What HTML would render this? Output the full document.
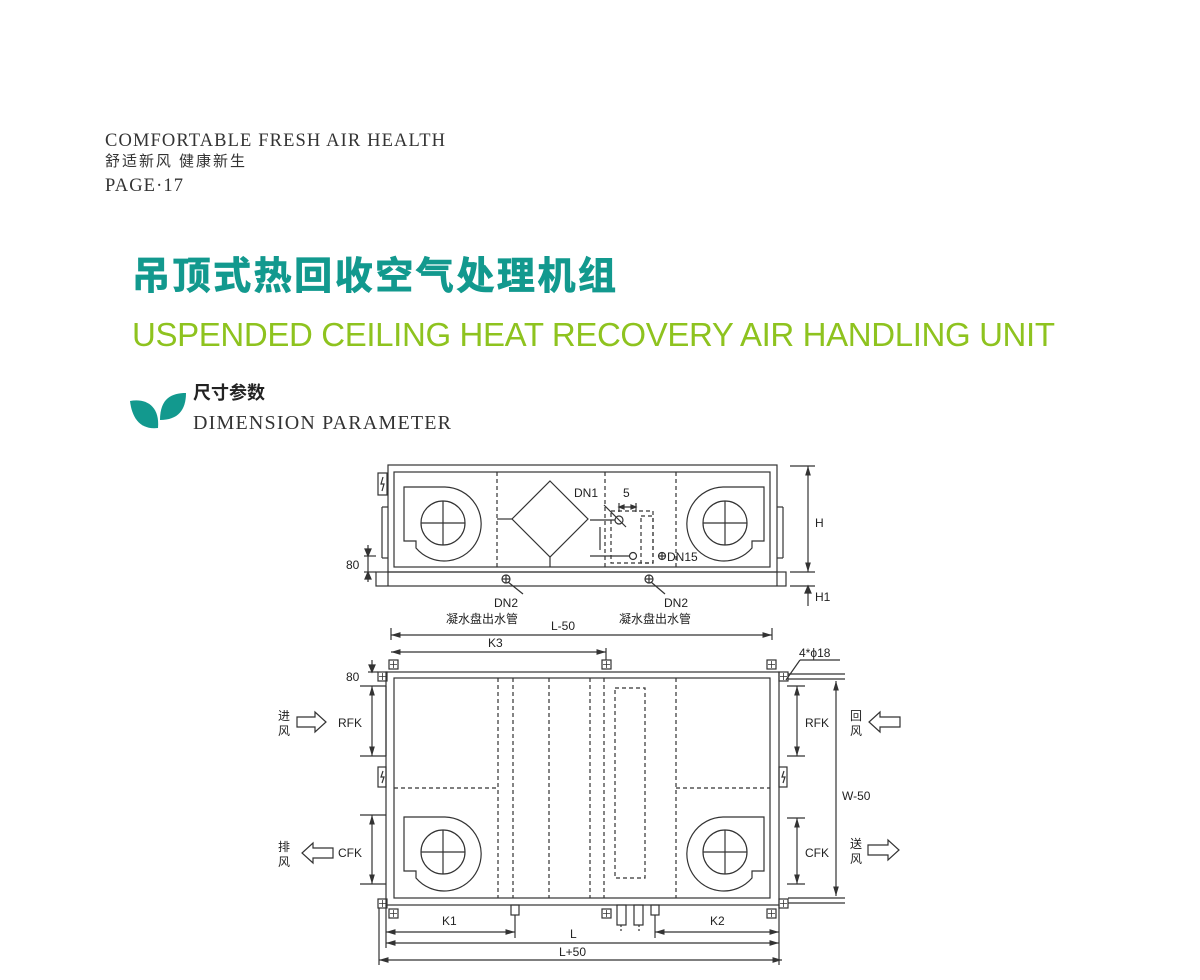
<!DOCTYPE html>
<html><head><meta charset="utf-8"><style>
body{margin:0;background:#fff}
svg{display:block}
</style></head><body>
<svg width="1200" height="980" viewBox="0 0 1200 980" xmlns="http://www.w3.org/2000/svg">
<defs>
<marker id="a" viewBox="0 0 10 10" refX="10" refY="5" markerWidth="8" markerHeight="8" orient="auto-start-reverse"><path d="M0,2 L10,5 L0,8 Z" fill="#333"/></marker>
</defs>
<g font-family="Liberation Serif, serif" fill="#333">
<text x="105" y="146" font-size="18.5" textLength="340">COMFORTABLE FRESH AIR HEALTH</text>
<text x="105" y="166" font-size="15" font-family="Liberation Sans, Noto Sans CJK SC, sans-serif" textLength="140">舒适新风  健康新生</text>
<text x="105" y="191" font-size="18.5" textLength="78">PAGE·17</text>
</g>
<text x="132" y="289" font-size="38" font-weight="bold" fill="#12998e" font-family="Liberation Sans, Noto Sans CJK SC, sans-serif" textLength="484" stroke="#12998e" stroke-width="0.8">吊顶式热回收空气处理机组</text>
<text x="132" y="346" font-size="33" fill="#8ec31f" font-family="Liberation Sans, sans-serif" textLength="923">USPENDED CEILING HEAT RECOVERY AIR HANDLING UNIT</text>
<path d="M130,401 C145,398 160,405 158,428 C140,430 132,418 130,401 Z" fill="#12998e"/>
<path d="M186,393 C172,393 160,398 160,420 C178,420 186,410 186,393 Z" fill="#12998e"/>
<text x="193" y="399" font-size="18" font-weight="bold" fill="#222" font-family="Liberation Sans, Noto Sans CJK SC, sans-serif">尺寸参数</text>
<text x="193" y="429" font-size="20" fill="#333" font-family="Liberation Serif, serif" textLength="258">DIMENSION PARAMETER</text>

<g stroke="#333" stroke-width="1.2" fill="none">
<rect x="388" y="465" width="389" height="107"/>
<rect x="394" y="472" width="376" height="95"/>
<rect x="376" y="572" width="410" height="14"/>
<line x1="388" y1="572" x2="388" y2="586"/><line x1="777" y1="572" x2="777" y2="586"/>
<rect x="378" y="473" width="9" height="22"/>
<path d="M383,477 L381,484 L384,484 L382,491"/>
<line x1="382" y1="507" x2="382" y2="558"/><line x1="382" y1="507" x2="388" y2="507"/><line x1="382" y1="558" x2="388" y2="558"/>
<line x1="783" y1="507" x2="783" y2="558"/><line x1="777" y1="507" x2="783" y2="507"/><line x1="777" y1="558" x2="783" y2="558"/>
<g stroke-dasharray="4,3"><line x1="497" y1="472" x2="497" y2="567"/><line x1="605" y1="472" x2="605" y2="567"/><line x1="676" y1="472" x2="676" y2="567"/>
<rect x="611" y="511" width="42" height="52"/><rect x="641" y="516" width="12" height="47"/></g>
<path d="M550,481 L588,519 L550,557 L512,519 Z"/>
<line x1="497" y1="519" x2="512" y2="519"/><line x1="550" y1="557" x2="550" y2="567"/>
<path d="M404,487 L445,487 A37,37 0 1 1 416,548 L416,541 L404,541 Z"/>
<circle cx="443" cy="523" r="22"/><line x1="421" y1="523" x2="465" y2="523"/><line x1="443" y1="501" x2="443" y2="545"/>
<path d="M764,487 L723,487 A37,37 0 1 0 752,548 L752,541 L764,541 Z"/>
<circle cx="725" cy="523" r="22"/><line x1="703" y1="523" x2="747" y2="523"/><line x1="725" y1="501" x2="725" y2="545"/>
<circle cx="619" cy="520" r="4"/><line x1="590" y1="520" x2="615" y2="520"/><line x1="604" y1="505" x2="626" y2="527"/>
<circle cx="633" cy="556" r="3.5"/><line x1="590" y1="556" x2="630" y2="556"/>
<line x1="600" y1="527" x2="600" y2="550"/>
<line x1="619" y1="503" x2="619" y2="512"/><line x1="636" y1="503" x2="636" y2="512"/>
<line x1="619" y1="507" x2="636" y2="507"/>
<path d="M619,507 l5,-2 v4 Z M636,507 l-5,-2 v4 Z" fill="#333"/>
<circle cx="662" cy="556" r="3.5"/><line x1="658.5" y1="556" x2="665.5" y2="556"/><line x1="662" y1="552.5" x2="662" y2="559.5"/>
<circle cx="506" cy="579" r="4"/><line x1="502" y1="579" x2="510" y2="579"/><line x1="506" y1="575" x2="506" y2="583"/><line x1="508" y1="582" x2="523" y2="594"/>
<circle cx="649" cy="579" r="4"/><line x1="645" y1="579" x2="653" y2="579"/><line x1="649" y1="575" x2="649" y2="583"/><line x1="651" y1="582" x2="665" y2="594"/>
<line x1="790" y1="466" x2="815" y2="466"/><line x1="790" y1="572" x2="815" y2="572"/><line x1="790" y1="586" x2="815" y2="586"/>
<line x1="808" y1="466" x2="808" y2="572" marker-start="url(#a)" marker-end="url(#a)"/>
<line x1="808" y1="586" x2="808" y2="606"/><path d="M808,586 l-3,7 h6 Z" fill="#333"/>
<line x1="364" y1="556" x2="376" y2="556"/><line x1="364" y1="572" x2="376" y2="572"/>
<line x1="368" y1="545" x2="368" y2="582"/>
<path d="M368,556 l-3,-7 h6 Z M368,572 l-3,7 h6 Z" fill="#333"/>
<line x1="391" y1="628" x2="391" y2="640"/><line x1="772" y1="628" x2="772" y2="640"/>
<line x1="391" y1="635" x2="772" y2="635" marker-start="url(#a)" marker-end="url(#a)"/>
<line x1="606" y1="648" x2="606" y2="660"/>
<line x1="391" y1="652" x2="606" y2="652" marker-start="url(#a)" marker-end="url(#a)"/>

<rect x="386" y="672" width="393" height="233"/>
<rect x="394" y="678" width="376" height="220"/>
<g stroke-dasharray="4,3">
<line x1="498" y1="678" x2="498" y2="898"/><line x1="513" y1="678" x2="513" y2="898"/><line x1="549" y1="678" x2="549" y2="898"/><line x1="590" y1="678" x2="590" y2="898"/><line x1="604" y1="678" x2="604" y2="898"/><line x1="676" y1="678" x2="676" y2="898"/>
<rect x="615" y="688" width="30" height="190"/>
<line x1="394" y1="788" x2="498" y2="788"/><line x1="676" y1="788" x2="770" y2="788"/>
</g>
<path d="M404,817 L445,817 A37,37 0 1 1 416,878 L416,871 L404,871 Z"/>
<circle cx="443" cy="852" r="22"/><line x1="421" y1="852" x2="465" y2="852"/><line x1="443" y1="830" x2="443" y2="874"/>
<path d="M764,817 L723,817 A37,37 0 1 0 752,878 L752,871 L764,871 Z"/>
<circle cx="725" cy="852" r="22"/><line x1="703" y1="852" x2="747" y2="852"/><line x1="725" y1="830" x2="725" y2="874"/>
<g>
<rect x="389" y="660" width="9" height="9"/><rect x="602" y="660" width="9" height="9"/><rect x="767" y="660" width="9" height="9"/>
<rect x="378" y="672" width="9" height="9"/><rect x="779" y="672" width="9" height="9"/>
<rect x="378" y="899" width="9" height="9"/><rect x="779" y="899" width="9" height="9"/>
<rect x="389" y="909" width="9" height="9"/><rect x="602" y="909" width="9" height="9"/><rect x="767" y="909" width="9" height="9"/>
</g>
<g stroke-width="0.8">
<path d="M393.5,661v7M390,664.5h7 M606.5,661v7M603,664.5h7 M771.5,661v7M768,664.5h7 M382.5,673v7M379,676.5h7 M783.5,673v7M780,676.5h7 M382.5,900v7M379,903.5h7 M783.5,900v7M780,903.5h7 M393.5,910v7M390,913.5h7 M606.5,910v7M603,913.5h7 M771.5,910v7M768,913.5h7"/>
</g>
<rect x="511" y="905" width="8" height="10"/><rect x="651" y="905" width="8" height="10"/>
<rect x="617" y="905" width="9" height="20"/><rect x="634" y="905" width="9" height="20"/>
<line x1="621" y1="925" x2="621" y2="932" stroke-dasharray="2,2"/><line x1="639" y1="925" x2="639" y2="932" stroke-dasharray="2,2"/>
<rect x="378" y="767" width="8" height="20"/><path d="M383,771 l-2,6 h3 l-2,6"/>
<rect x="779" y="767" width="8" height="20"/><path d="M784,771 l-2,6 h3 l-2,6"/>
<line x1="386" y1="686" x2="386" y2="756"/><line x1="360" y1="686" x2="386" y2="686"/><line x1="360" y1="756" x2="386" y2="756"/>
<line x1="372" y1="686" x2="372" y2="756" marker-start="url(#a)" marker-end="url(#a)"/>
<line x1="360" y1="815" x2="386" y2="815"/><line x1="360" y1="884" x2="386" y2="884"/>
<line x1="372" y1="815" x2="372" y2="884" marker-start="url(#a)" marker-end="url(#a)"/>
<line x1="368" y1="672" x2="378" y2="672"/><line x1="372" y1="660" x2="372" y2="672"/><path d="M372,672 l-3,-7 h6 Z" fill="#333"/>
<line x1="787" y1="686" x2="805" y2="686"/><line x1="787" y1="756" x2="805" y2="756"/>
<line x1="797" y1="686" x2="797" y2="756" marker-start="url(#a)" marker-end="url(#a)"/>
<line x1="787" y1="818" x2="805" y2="818"/><line x1="787" y1="884" x2="805" y2="884"/>
<line x1="797" y1="818" x2="797" y2="884" marker-start="url(#a)" marker-end="url(#a)"/>
<line x1="788" y1="674" x2="845" y2="674"/><line x1="788" y1="679" x2="845" y2="679"/>
<line x1="788" y1="898" x2="845" y2="898"/><line x1="788" y1="903" x2="845" y2="903"/>
<line x1="836" y1="681" x2="836" y2="896" marker-start="url(#a)" marker-end="url(#a)"/>
<line x1="786" y1="680" x2="800" y2="660"/><line x1="800" y1="660" x2="840" y2="660"/>
<path d="M297,717 h18 v-5 l11,10 l-11,10 v-5 h-18 Z"/>
<path d="M333,848 h-20 v-5 l-11,10 l11,10 v-5 h20 Z"/>
<path d="M900,717 h-20 v-5 l-11,10 l11,10 v-5 h20 Z"/>
<path d="M868,845 h20 v-5 l11,10 l-11,10 v-5 h-20 Z"/>
<line x1="386" y1="905" x2="386" y2="948"/><line x1="779" y1="905" x2="779" y2="965"/>
<line x1="379" y1="908" x2="379" y2="965"/><line x1="515" y1="915" x2="515" y2="938"/><line x1="655" y1="915" x2="655" y2="938"/>
<line x1="386" y1="932" x2="515" y2="932" marker-start="url(#a)" marker-end="url(#a)"/>
<line x1="655" y1="932" x2="779" y2="932" marker-start="url(#a)" marker-end="url(#a)"/>
<line x1="386" y1="943" x2="779" y2="943" marker-start="url(#a)" marker-end="url(#a)"/>
<line x1="379" y1="960" x2="782" y2="960" marker-start="url(#a)" marker-end="url(#a)"/>
</g>
<g font-family="Liberation Sans, Noto Sans CJK SC, sans-serif" font-size="12" fill="#222">
<text x="574" y="497">DN1</text><text x="623" y="497">5</text><text x="667" y="561">DN15</text>
<text x="346" y="569">80</text><text x="815" y="527">H</text><text x="815" y="601">H1</text>
<text x="494" y="607">DN2</text><text x="446" y="623">凝水盘出水管</text>
<text x="664" y="607">DN2</text><text x="619" y="623">凝水盘出水管</text>
<text x="551" y="630">L-50</text><text x="488" y="647">K3</text>
<text x="799" y="657">4*ϕ18</text>
<text x="346" y="681">80</text>
<text x="338" y="727">RFK</text><text x="338" y="857">CFK</text>
<text x="805" y="727">RFK</text><text x="805" y="857">CFK</text>
<text x="842" y="800">W-50</text>
<text x="278" y="720">进</text><text x="278" y="735">风</text>
<text x="278" y="851">排</text><text x="278" y="866">风</text>
<text x="850" y="720">回</text><text x="850" y="735">风</text>
<text x="850" y="848">送</text><text x="850" y="863">风</text>
<text x="442" y="925">K1</text><text x="710" y="925">K2</text>
<text x="570" y="938">L</text><text x="559" y="956">L+50</text>
</g>
</svg>
</body></html>
